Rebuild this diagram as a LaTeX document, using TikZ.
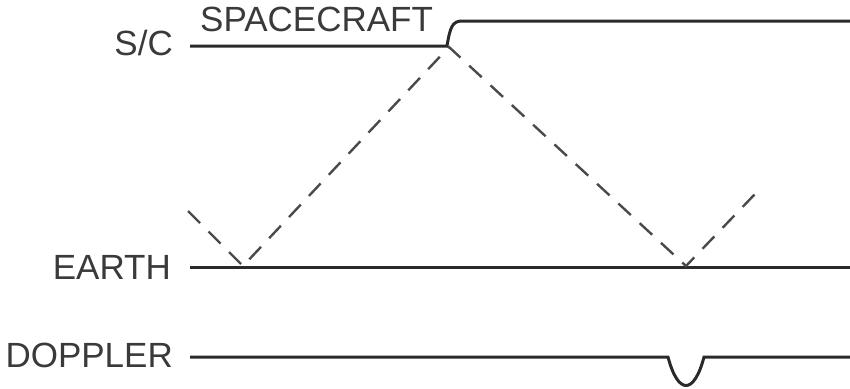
\documentclass[tikz,border=0pt]{standalone}
\usepackage{fontspec}
\setmainfont{Liberation Sans}
\definecolor{ink}{HTML}{2A2A2A}
\definecolor{txt}{HTML}{3A3A3A}
\tikzset{
  lbl/.style={inner sep=0pt, text=txt, font=\fontsize{35}{35}\selectfont},
  track/.style={draw=ink, line width=3pt},
  signal/.style={draw=ink!85, line width=2.4pt, dash pattern=on 17pt off 12pt}
}
\begin{document}
\begin{tikzpicture}[x=1pt,y=-1pt]
\useasboundingbox (0,0) rectangle (850,388);
% labels
\node[lbl, anchor=base east] (sclbl) at (173,55) {S/C};
\node[lbl, anchor=base east] (earthlbl) at (171,279) {EARTH};
\node[lbl, anchor=base east] (dopplbl) at (173,367) {DOPPLER};
\node[lbl, anchor=base west] (spacecraft) at (200,31) {SPACECRAFT};
% key points
\coordinate (scA) at (190,46);
\coordinate (scB) at (447,46);
\coordinate (scC) at (462,21);
\coordinate (scD) at (850,21);
\coordinate (eA) at (190,267);
\coordinate (eB) at (850,267);
\coordinate (dA) at (190,357);
\coordinate (dB) at (668,357);
\coordinate (dC) at (704,357);
\coordinate (dD) at (850,357);
\coordinate (s0) at (188,211);
\coordinate (s1) at (243,266);
\coordinate (s2) at (449,47);
\coordinate (s3) at (686,266);
\coordinate (s4) at (755,194);
% tracks
\draw[track] (scA) -- (scB) .. controls (450,28) and (452,21) .. (scC) -- (scD);
\draw[track] (eA) -- (eB);
\draw[track] (dA) -- (dB) .. controls (678,395) and (694,395) .. (dC) -- (dD);
% signal
\draw[signal] (s0) -- (s1) -- (s2) -- (s3) -- (s4);
\end{tikzpicture}
\end{document}
